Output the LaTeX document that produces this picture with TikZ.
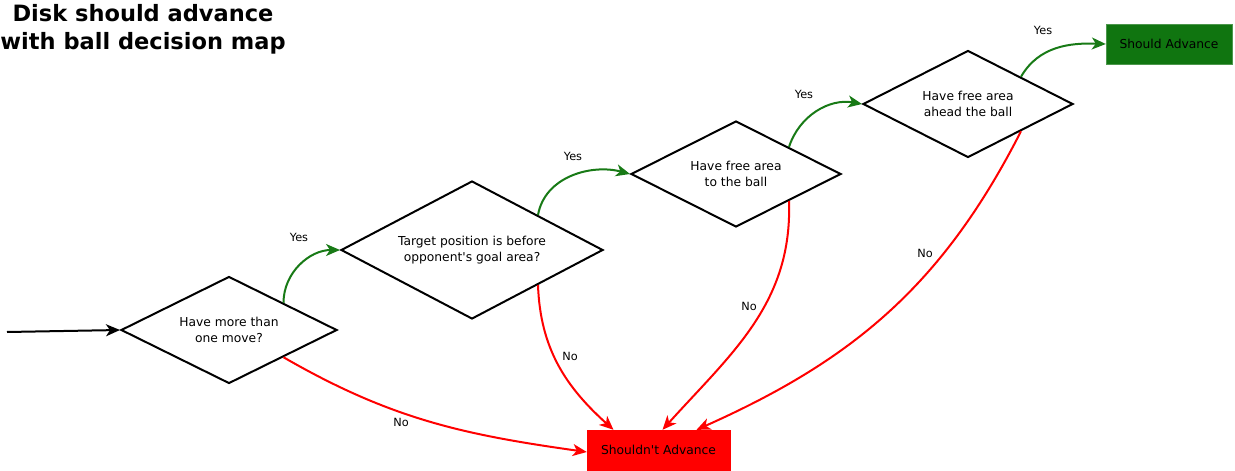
\documentclass[tikz,border=0pt]{standalone}
\usepackage{fontspec}
\setmainfont{DejaVu Sans}[Ligatures=TeXOff]
\usetikzlibrary{shapes.geometric,arrows.meta,calc}
\definecolor{ygreen}{RGB}{24,122,22}
\definecolor{boxgreen}{RGB}{16,117,16}
\begin{document}
\begin{tikzpicture}[x=1pt,y=-1pt,
  decision/.style={diamond, draw=black, line width=2pt, fill=white, inner sep=0pt, align=center, font=\fontsize{12.3}{15.5}\selectfont},
  endbox/.style={rectangle, inner sep=0pt, font=\fontsize{12.3}{15}\selectfont},
  tip/.style={-{Stealth[length=14pt,width=12pt,inset=4pt]}},
  startline/.style={draw=black, line width=2pt, tip},
  yesline/.style={draw=ygreen, line width=2pt, tip},
  noline/.style={draw=red, line width=2pt, tip},
  lbl/.style={font=\fontsize{11.3}{14}\selectfont, inner sep=0pt}
]
\useasboundingbox (0,0) rectangle (1235,471);

\node[font=\fontsize{22.5}{28}\selectfont\bfseries, align=center] (title) at (143,29) {Disk should advance\\with ball decision map};

\node[decision, shape aspect=2.02, minimum width=216pt, minimum height=107pt] (d1) at (229,330) {Have more than\\one move?};
\node[decision, shape aspect=1.9, minimum width=262pt, minimum height=138pt] (d2) at (472,250) {Target position is before\\opponent's goal area?};
\node[decision, shape aspect=1.98, minimum width=210pt, minimum height=106pt] (d3) at (736,174) {Have free area\\to the ball};
\node[decision, shape aspect=1.96, minimum width=210pt, minimum height=107pt] (d4) at (968,104) {Have free area\\ahead the ball};

\node[endbox, fill=red, draw=red, minimum width=143pt, minimum height=40pt] (s) at (658.5,450) {Shouldn't Advance};
\node[endbox, fill=boxgreen, draw=boxgreen!75!white, minimum width=126pt, minimum height=40pt] (g) at (1169,44) {Should Advance};

\coordinate (st) at (7,332);
\draw[startline] (st) -- (d1.west);

\draw[yesline] (d1.north east) to[out=90,in=180] (d2.west);
\draw[yesline] (d2.north east) to[out=80,in=165] (d3.west);
\draw[yesline] (d3.north east) to[out=72,in=170] (d4.west);
\draw[yesline] (d4.north east) to[out=60,in=178] (g.west);

\draw[noline] (d1.south east) to[out=-30,in=172] ([yshift=-2pt]s.west);
\draw[noline] (d2.south east) to[out=-88,in=138] ([xshift=-45pt]s.north);
\draw[noline] (d3.south east) to[out=-88,in=48] ([xshift=4pt]s.north);
\draw[noline] (d4.south east) to[out=-117,in=24] ([xshift=38pt]s.north);

\node[lbl] (y1) at (299,237) {Yes};
\node[lbl] (y2) at (573,156) {Yes};
\node[lbl] (y3) at (804,94) {Yes};
\node[lbl] (y4) at (1043,30) {Yes};
\node[lbl] (n1) at (401,422) {No};
\node[lbl] (n2) at (570,356) {No};
\node[lbl] (n3) at (749,306) {No};
\node[lbl] (n4) at (925,253) {No};
\end{tikzpicture}
\end{document}
